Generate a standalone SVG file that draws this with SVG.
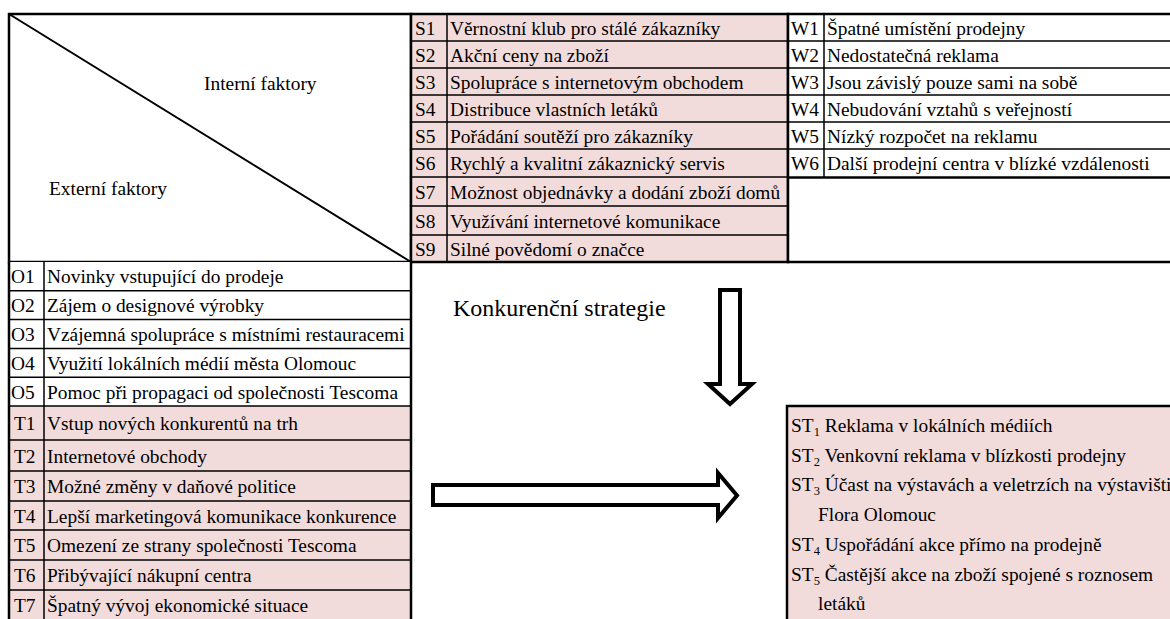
<svg xmlns="http://www.w3.org/2000/svg" width="1170" height="619" viewBox="0 0 1170 619">
<style>
text{font-family:"Liberation Serif","Times New Roman",serif;font-size:19.4px;fill:#000}
.big{font-size:24px}
.sub{font-size:12.5px}
.thin{stroke:#000;stroke-width:1.5;fill:none}
.thick{stroke:#000;stroke-width:2.5;fill:none}
.pink{fill:#F2DCDB}
.white{fill:#fff}
.arrow{fill:#fff;stroke:#000;stroke-width:4;stroke-linejoin:miter;stroke-miterlimit:10}
</style>
<rect x="0" y="0" width="1170" height="619" fill="#fff"/>

<g id="header">
<rect x="9" y="14" width="402" height="248" class="white"/>
<line x1="9" y1="14" x2="411" y2="262" stroke="#000" stroke-width="2"/>
<rect x="9" y="14" width="402" height="248" class="thick"/>
<text x="204" y="90">Interní faktory</text>
<text x="49" y="195">Externí faktory</text>
</g>

<g id="strengths">
<rect x="411" y="14" width="377" height="248" class="pink"/>
<path class="thin" d="M411 41H788M411 68H788M411 95H788M411 122H788M411 149H788M411 177H788M411 206H788M411 235H788M447 14V262"/>
<rect x="411" y="14" width="377" height="248" class="thick"/>
<text x="415" y="34.5">S1</text><text x="450" y="34.5">Věrnostní klub pro stálé zákazníky</text>
<text x="415" y="61.5">S2</text><text x="450" y="61.5">Akční ceny na zboží</text>
<text x="415" y="88.5">S3</text><text x="450" y="88.5">Spolupráce s internetovým obchodem</text>
<text x="415" y="115.5">S4</text><text x="450" y="115.5">Distribuce vlastních letáků</text>
<text x="415" y="142.5">S5</text><text x="450" y="142.5">Pořádání soutěží pro zákazníky</text>
<text x="415" y="170">S6</text><text x="450" y="170">Rychlý a kvalitní zákaznický servis</text>
<text x="415" y="198.5">S7</text><text x="450" y="198.5">Možnost objednávky a dodání zboží domů</text>
<text x="415" y="227.5">S8</text><text x="450" y="227.5">Využívání internetové komunikace</text>
<text x="415" y="255.5">S9</text><text x="450" y="255.5">Silné povědomí o značce</text>
</g>

<g id="weaknesses">
<rect x="788" y="14" width="384" height="248" class="white"/>
<path class="thin" d="M788 41H1172M788 68H1172M788 95H1172M788 122H1172M788 149H1172M824 14V177"/>
<path class="thick" d="M788 177.5H1172"/>
<rect x="788" y="14" width="384" height="248" class="thick"/>
<text x="791" y="34.5">W1</text><text x="827" y="34.5">Špatné umístění prodejny</text>
<text x="791" y="61.5">W2</text><text x="827" y="61.5">Nedostatečná reklama</text>
<text x="791" y="88.5">W3</text><text x="827" y="88.5">Jsou závislý pouze sami na sobě</text>
<text x="791" y="115.5">W4</text><text x="827" y="115.5">Nebudování vztahů s veřejností</text>
<text x="791" y="142.5">W5</text><text x="827" y="142.5">Nízký rozpočet na reklamu</text>
<text x="791" y="170">W6</text><text x="827" y="170">Další prodejní centra v blízké vzdálenosti</text>
</g>

<g id="opportunities">
<rect x="9" y="262" width="402" height="144" class="white"/>
<path class="thin" d="M9 290.8H411M9 319.6H411M9 348.4H411M9 377.2H411M44 262V406"/>
<path class="thick" d="M9 262V406M411 262V406"/>
<text x="11" y="283.4">O1</text><text x="47" y="283.4">Novinky vstupující do prodeje</text>
<text x="11" y="312.2">O2</text><text x="47" y="312.2">Zájem o designové výrobky</text>
<text x="11" y="341">O3</text><text x="47" y="341">Vzájemná spolupráce s místními restauracemi</text>
<text x="11" y="369.8">O4</text><text x="47" y="369.8">Využití lokálních médií města Olomouc</text>
<text x="11" y="398.6">O5</text><text x="47" y="398.6">Pomoc při propagaci od společnosti Tescoma</text>
</g>

<g id="threats">
<rect x="9" y="406" width="402" height="215" class="pink"/>
<path class="thin" d="M9 406H411M9 440H411M9 471H411M9 501H411M9 530H411M9 560H411M9 590H411M44 406V621"/>
<path class="thick" d="M9 406V621M411 406V621"/>
<text x="14" y="430">T1</text><text x="47" y="430">Vstup nových konkurentů na trh</text>
<text x="14" y="462.5">T2</text><text x="47" y="462.5">Internetové obchody</text>
<text x="14" y="493">T3</text><text x="47" y="493">Možné změny v daňové politice</text>
<text x="14" y="522.5">T4</text><text x="47" y="522.5">Lepší marketingová komunikace konkurence</text>
<text x="14" y="552">T5</text><text x="47" y="552">Omezení ze strany společnosti Tescoma</text>
<text x="14" y="582">T6</text><text x="47" y="582">Přibývající nákupní centra</text>
<text x="14" y="612">T7</text><text x="47" y="612">Špatný vývoj ekonomické situace</text>
</g>

<g id="strategy-label">
<text class="big" x="453" y="316">Konkurenční strategie</text>
</g>

<g id="st-strategies">
<rect x="787" y="406" width="400" height="230" class="pink"/>
<rect x="787" y="406" width="400" height="230" class="thick"/>
<text x="791" y="432">ST<tspan class="sub" dy="4">1</tspan><tspan dy="-4"> Reklama v lokálních médiích</tspan></text>
<text x="791" y="462">ST<tspan class="sub" dy="4">2</tspan><tspan dy="-4"> Venkovní reklama v blízkosti prodejny</tspan></text>
<text x="791" y="491">ST<tspan class="sub" dy="4">3</tspan><tspan dy="-4"> Účast na výstavách a veletrzích na výstavišti</tspan></text>
<text x="818" y="521">Flora Olomouc</text>
<text x="791" y="551">ST<tspan class="sub" dy="4">4</tspan><tspan dy="-4"> Uspořádání akce přímo na prodejně</tspan></text>
<text x="791" y="581">ST<tspan class="sub" dy="4">5</tspan><tspan dy="-4"> Častější akce na zboží spojené s roznosem</tspan></text>
<text x="818" y="610">letáků</text>
</g>

<g id="connectors">
<polygon class="arrow" points="720,290 740,290 740,384 752,384 730,404 708,384 720,384"/>
<polygon class="arrow" points="433,485 718,485 718,473 737,495.5 718,518 718,505 433,505"/>
</g>
</svg>
